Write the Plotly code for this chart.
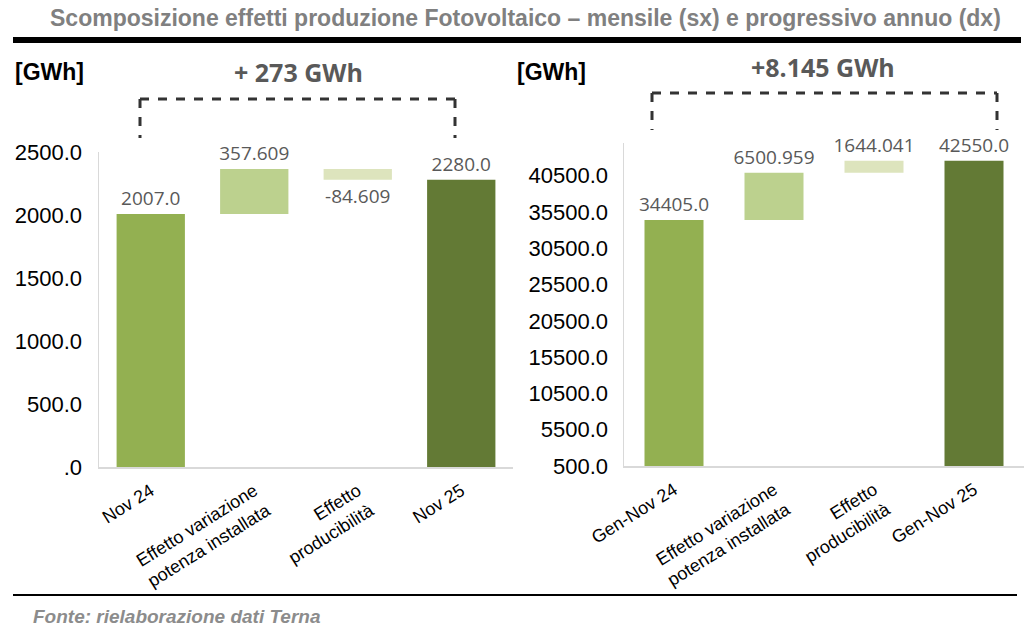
import plotly.graph_objects as go

# ---------------- data ----------------
left_categories = ["Nov 24", "Effetto variazione<br>potenza installata", "Effetto<br>producibilità", "Nov 25"]
left_values = [2007.0, 357.609, -84.609, 2280.0]
left_kinds = ["total", "delta", "delta", "total"]
left_labels = ["2007.0", "357.609", "-84.609", "2280.0"]
left_tickvals = [0, 500, 1000, 1500, 2000, 2500]
left_ticktext = [".0", "500.0", "1000.0", "1500.0", "2000.0", "2500.0"]

right_categories = ["Gen-Nov 24", "Effetto variazione<br>potenza installata", "Effetto<br>producibilità", "Gen-Nov 25"]
right_values = [34405.0, 6500.959, 1644.041, 42550.0]
right_kinds = ["total", "delta", "delta", "total"]
right_labels = ["34405.0", "6500.959", "1644.041", "42550.0"]
right_tickvals = [500, 5500, 10500, 15500, 20500, 25500, 30500, 35500, 40500]
right_ticktext = ["500.0", "5500.0", "10500.0", "15500.0", "20500.0", "25500.0", "30500.0", "35500.0", "40500.0"]

bar_colors = ["#93b051", "#bcd18e", "#dde4bd", "#637a35"]

title_text = "Scomposizione effetti produzione Fotovoltaico – mensile (sx) e progressivo annuo (dx)"
left_delta_text = "+ 273 GWh"
right_delta_text = "+8.145 GWh"
unit_text = "[GWh]"
source_text = "Fonte: rielaborazione dati Terna"

# the page body margin is removed (post_script below), so the figure fills the 1024x639 window
W, H = 1024, 639


def bases(values, kinds, floor):
    out = []
    run = 0.0
    for v, k in zip(values, kinds):
        if k == "total":
            out.append(floor)
            run = v
        else:
            out.append(run)
            run += v
    return out


def heights(values, kinds, floor):
    return [v - floor if k == "total" else v for v, k in zip(values, kinds)]


def px(x):
    return x / W


def py(y):
    return 1 - y / H


fig = go.Figure()

label_font = dict(family="Open Sans, Liberation Sans, sans-serif", size=19, color="#595959")

fig.add_trace(go.Bar(
    x=left_categories, y=heights(left_values, left_kinds, 0), base=bases(left_values, left_kinds, 0),
    marker=dict(color=bar_colors, line=dict(width=0)), width=0.66,
    text=left_labels, textposition="outside", textfont=label_font,
    constraintext="none", cliponaxis=False, xaxis="x", yaxis="y", showlegend=False,
))
fig.add_trace(go.Bar(
    x=right_categories, y=heights(right_values, right_kinds, 500), base=bases(right_values, right_kinds, 500),
    marker=dict(color=bar_colors, line=dict(width=0)), width=0.59,
    text=right_labels, textposition="outside", textfont=label_font,
    constraintext="none", cliponaxis=False, xaxis="x2", yaxis="y2", showlegend=False,
))

tick_font = dict(family="Liberation Sans, Arial, sans-serif", size=22, color="#000000")
xtick_font = dict(family="Liberation Sans, Arial, sans-serif", size=18, color="#000000")
axis_line = dict(showline=True, linecolor="#d9d9d9", linewidth=1.5, showgrid=False, zeroline=False,
                 automargin=False)

fig.update_layout(
    width=W, height=H,
    margin=dict(l=0, r=0, t=0, b=0, pad=0, autoexpand=False),
    paper_bgcolor="white", plot_bgcolor="white",
    barmode="overlay",
    xaxis=dict(domain=[px(99), px(513)], anchor="y", type="category", range=[-0.5, 3.5],
               tickangle=-32, tickfont=xtick_font, ticks="", ticklabelstandoff=5, **axis_line),
    yaxis=dict(domain=[py(467), py(152)], anchor="x", range=[0, 2500],
               tickvals=left_tickvals, ticktext=left_ticktext, tickfont=tick_font,
               ticks="", ticklabelstandoff=11, **axis_line),
    xaxis2=dict(domain=[px(624), 1.0], anchor="y2", type="category", range=[-0.5, 3.5],
                tickangle=-32, tickfont=xtick_font, ticks="", ticklabelstandoff=5, **axis_line),
    yaxis2=dict(domain=[py(466), py(143)], anchor="x2", range=[500, 45000],
                tickvals=right_tickvals, ticktext=right_ticktext, tickfont=tick_font,
                ticks="", ticklabelstandoff=10, **axis_line),
)

annotations = [
    dict(text="<b>" + title_text + "</b>", x=px(525), y=py(18), xanchor="center", yanchor="middle",
         font=dict(family="Liberation Sans, Arial, sans-serif", size=23, color="#808080")),
    dict(text="<b>" + unit_text + "</b>", x=px(13), y=py(72), xanchor="left", yanchor="middle",
         font=dict(family="Liberation Sans, Arial, sans-serif", size=23, color="#000000")),
    dict(text="<b>" + unit_text + "</b>", x=px(515), y=py(72), xanchor="left", yanchor="middle",
         font=dict(family="Liberation Sans, Arial, sans-serif", size=23, color="#000000")),
    dict(text="<b>" + left_delta_text + "</b>", x=px(298), y=py(72), xanchor="center", yanchor="middle",
         font=dict(family="Open Sans, Liberation Sans, sans-serif", size=25, color="#595959")),
    dict(text="<b>" + right_delta_text + "</b>", x=px(823), y=py(67), xanchor="center", yanchor="middle",
         font=dict(family="Open Sans, Liberation Sans, sans-serif", size=25, color="#595959")),
    dict(text="<b><i>" + source_text + "</i></b>", x=px(31), y=py(616), xanchor="left", yanchor="middle",
         font=dict(family="Liberation Sans, Arial, sans-serif", size=19, color="#8c8c8c")),
]
for a in annotations:
    a.update(xref="paper", yref="paper", showarrow=False)
fig.update_layout(annotations=annotations)

dash_line = dict(color="#333333", width=3, dash="dash")
shapes = [
    # header rule and footer rule
    dict(type="line", x0=px(13), x1=px(1021), y0=py(40), y1=py(40), line=dict(color="#000000", width=6)),
    dict(type="line", x0=px(13), x1=px(1017), y0=py(595), y1=py(595), line=dict(color="#000000", width=2)),
    # left bracket
    dict(type="line", x0=px(140), x1=px(455), y0=py(99), y1=py(99), line=dash_line),
    dict(type="line", x0=px(140), x1=px(140), y0=py(99), y1=py(138), line=dash_line),
    dict(type="line", x0=px(455), x1=px(455), y0=py(99), y1=py(138), line=dash_line),
    # right bracket
    dict(type="line", x0=px(652), x1=px(997), y0=py(93), y1=py(93), line=dash_line),
    dict(type="line", x0=px(652), x1=px(652), y0=py(93), y1=py(130), line=dash_line),
    dict(type="line", x0=px(997), x1=px(997), y0=py(93), y1=py(130), line=dash_line),
]
for s in shapes:
    s.update(xref="paper", yref="paper")
fig.update_layout(shapes=shapes)

fig.write_html(
    "out.html",
    config={"displayModeBar": False, "staticPlot": True},
    post_script="document.body.style.margin='0';document.body.style.overflow='hidden';",
)
